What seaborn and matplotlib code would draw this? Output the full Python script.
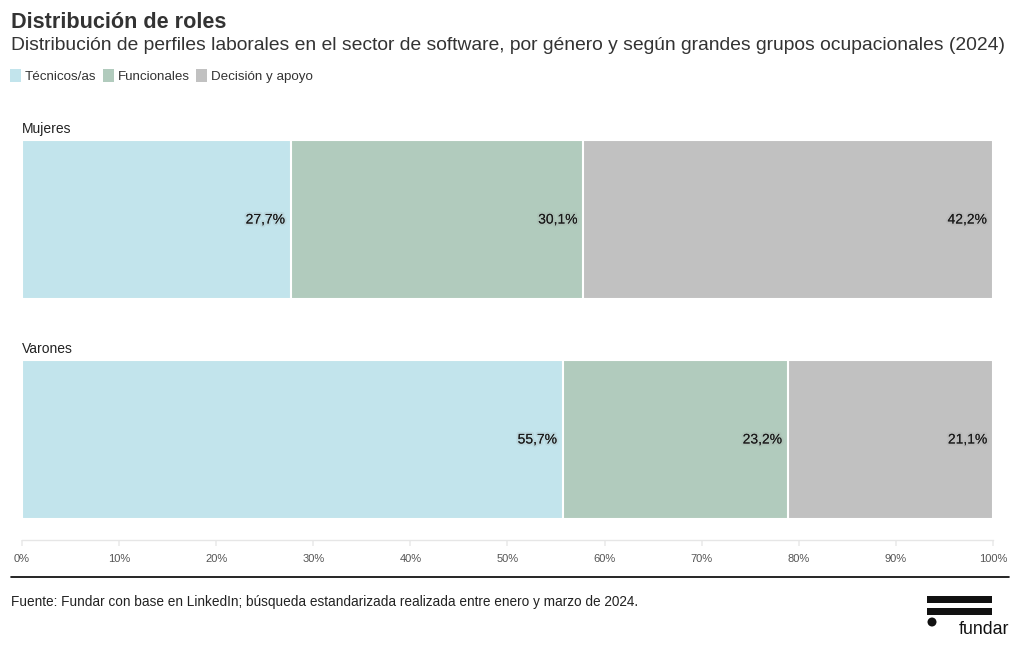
import matplotlib
matplotlib.use("Agg")
import matplotlib.pyplot as plt
import matplotlib.patheffects as pe
from matplotlib.patches import Patch, Rectangle, Ellipse
from matplotlib.lines import Line2D
import seaborn as sns
import pandas as pd
import numpy as np

generos = ["Mujeres", "Varones"]
series = ["Técnicos/as", "Funcionales", "Decisión y apoyo"]
tecnicos = [27.7, 55.7]
funcionales = [30.1, 23.2]
decision = [42.2, 21.1]
colores = ["#c2e4ec", "#b1cbbd", "#c1c1c1"]
ticks = [0, 10, 20, 30, 40, 50, 60, 70, 80, 90, 100]

sns.set_theme(style="white")
plt.rcParams["font.family"] = ["Liberation Sans", "DejaVu Sans"]

W, H = 1020, 650
fig = plt.figure(figsize=(W / 100, H / 100), dpi=100)
ax = fig.add_axes([22 / W, 1 - 540 / H, (993 - 22) / W, 410 / H])

vals = np.array([tecnicos, funcionales, decision])
cum = np.cumsum(vals, axis=0)
df = pd.DataFrame({"genero": generos})
for k in [2, 1, 0]:
    df["v"] = cum[k]
    sns.barplot(data=df, x="v", y="genero", color=colores[k], orient="h",
                width=0.72, edgecolor="white", linewidth=1.5, ax=ax,
                saturation=1)

for k in range(3):
    for i in range(2):
        ax.text(cum[k][i] - 0.6, i, f"{vals[k][i]:.1f}%".replace(".", ","),
                ha="right", va="center", fontsize=10, color="#1a1a1a",
                path_effects=[pe.withStroke(linewidth=3, foreground=(0.6, 0.6, 0.6, 0.15))])

for i, g in enumerate(generos):
    ax.text(0, i - 0.38, g, ha="left", va="bottom", fontsize=10, color="#222222")

ax.set_xlim(0, 100)
ax.set_ylim(1.457, -0.407)
ax.set_xticks(ticks)
ax.set_xticklabels([f"{t}%" for t in ticks], fontsize=8, color="#555555")
ax.set_yticks([])
ax.set_xlabel("")
ax.set_ylabel("")
for s in ["top", "right", "left"]:
    ax.spines[s].set_visible(False)
ax.spines["bottom"].set_color("#e6e6e6")
ax.spines["bottom"].set_linewidth(1)
ax.tick_params(axis="x", length=4, color="#ececec", pad=6, bottom=True)

# Titles
fig.text(11 / W, 1 - 22 / H, "Distribución de roles", fontsize=15.6, fontweight="bold",
         color="#333333", va="center", ha="left")
fig.text(11 / W, 1 - 45 / H,
         "Distribución de perfiles laborales en el sector de software, por género y según grandes grupos ocupacionales (2024)",
         fontsize=13.85, color="#333333", va="center", ha="left")

# Legend
handles = [Patch(facecolor=c, edgecolor="none") for c in colores]
fig.legend(handles, series, loc="center left", bbox_to_anchor=(-2 / W, 1 - 76 / H),
           ncol=3, frameon=False, fontsize=9.6, handlelength=0.8, handleheight=1.1,
           handletextpad=0.3, columnspacing=0.5, labelcolor="#333333")

# Rule and source
fig.add_artist(Line2D([11 / W, 1009 / W], [1 - 577 / H, 1 - 577 / H], color="black", lw=1.2))
fig.text(11 / W, 1 - 602 / H,
         "Fuente: Fundar con base en LinkedIn; búsqueda estandarizada realizada entre enero y marzo de 2024.",
         fontsize=9.8, color="#222222", va="center", ha="left")

# Logo
fig.add_artist(Rectangle((927 / W, 1 - 603 / H), 65 / W, 7 / H, transform=fig.transFigure,
                         color="#111111", lw=0))
fig.add_artist(Rectangle((927 / W, 1 - 615 / H), 65 / W, 7 / H, transform=fig.transFigure,
                         color="#111111", lw=0))
fig.add_artist(Ellipse((932 / W, 1 - 622 / H), 9 / W, 9 / H, transform=fig.transFigure,
                       color="#111111", lw=0))
fig.text(1009 / W, 1 - 630 / H, "fundar", fontsize=12.8, color="#111111", ha="right", va="center")

fig.savefig("out.png", dpi=100)
